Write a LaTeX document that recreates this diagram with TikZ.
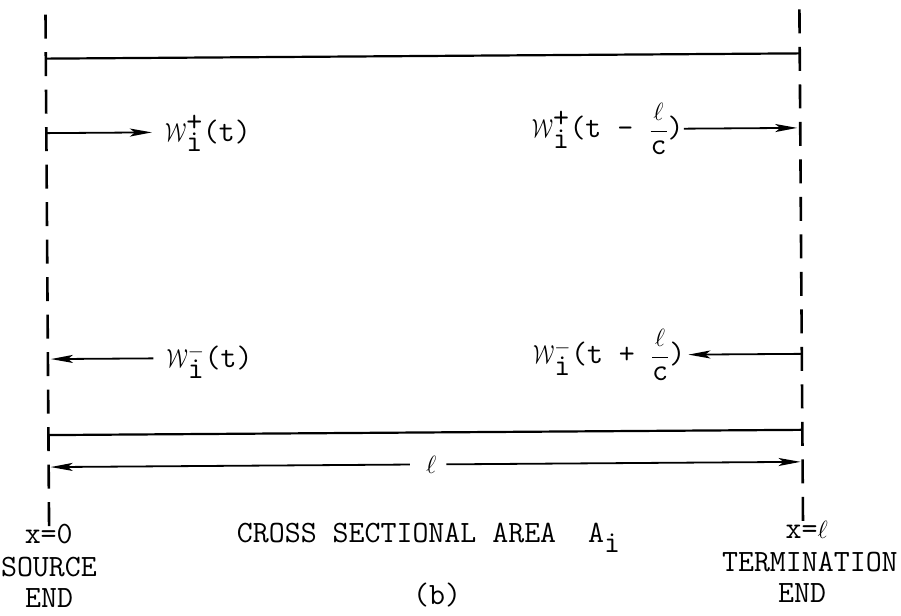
\documentclass[tikz,border=0pt]{standalone}
\usetikzlibrary{arrows.meta}
\newcommand\Wv{\mbox{\scalebox{0.8}[1.05]{$\mathcal{W}$}}}
\newcommand\fr{$\displaystyle\frac{\ell}{\texttt{c}}$}
\begin{document}
\begin{tikzpicture}[x=1pt,y=-1pt,
  wall/.style={line width=2.6pt, dash pattern=on 24pt off 13.5pt},
  bar/.style={line width=2.2pt},
  arr/.style={line width=1.8pt, -{Stealth[length=22pt,width=8pt,inset=5pt]}},
  lbl/.style={font=\fontsize{31}{34}\selectfont\ttfamily, inner sep=0pt}]
\useasboundingbox (0,0) rectangle (901,615);
\begin{scope}[rotate around={0.4:(424,300)}]
% walls
\coordinate (LT) at (47.5,12);   \coordinate (LB) at (47.5,524);
\coordinate (RT) at (801.5,12);  \coordinate (RB) at (801.5,524);
\draw[wall] (LT) -- (LB);
\draw[wall] (RT) -- (RB);
% contact points
\coordinate (l0) at (47.5,56);    \coordinate (r0) at (801.5,56);
\coordinate (l1) at (47.5,130.5); \coordinate (r1) at (801.5,130.5);
\coordinate (l2) at (47.5,356.5); \coordinate (r2) at (801.5,356.5);
\coordinate (l3) at (47.5,432.5); \coordinate (r3) at (801.5,432.5);
\coordinate (l4) at (47.5,464.5); \coordinate (r4) at (801.5,464.5);
% bars
\draw[bar] (l0) -- (r0);
\draw[bar] (l3) -- (r3);
% labels
\node[lbl, anchor=base west] (L1) at (166,139.5) {${\Wv}^{\texttt{+}}_{\texttt{i}}$(t)};
\node[lbl, anchor=base east] (L2) at (685,139.5) {${\Wv}^{\texttt{+}}_{\texttt{i}}$(t - \fr)};
\node[lbl, anchor=base west] (L3) at (166,365.5) {${\Wv}^{-}_{\texttt{i}}$(t)};
\node[lbl, anchor=base east] (L4) at (685,365.5) {${\Wv}^{-}_{\texttt{i}}$(t + \fr)};
% wave arrows
\draw[arr, shorten >=13pt] (l1) -- (L1.west |- l1);
\draw[arr, shorten >=3pt] (L2.east |- r1) -- (r1);
\draw[arr, shorten <=13pt, shorten >=3pt] (L3.west |- l2) -- (l2);
\draw[arr, shorten >=3pt] (r2) -- (L4.east |- r2);
% dimension
\node[lbl, inner sep=0pt] (ell) at (430,464.5) {$\ell$};
\draw[arr, shorten <=16pt, shorten >=2pt] (ell.west) -- (l4);
\draw[arr, shorten <=10pt, shorten >=2pt] (ell.east) -- (r4);
% bottom texts
\node[lbl, anchor=base] (x0) at (47,541) {x=0};
\node[lbl, anchor=base] (src) at (47,574) {SOURCE};
\node[lbl, anchor=base] (end1) at (47,605) {END};
\node[lbl, anchor=base west] (area) at (235,541) {CROSS SECTIONAL AREA\ \ A$_{\texttt{i}}$};
\node[lbl, anchor=base] (b) at (435,605) {(b)};
\node[lbl, anchor=base] (xl) at (805,541) {x=$\ell$};
\node[lbl, anchor=base] (term) at (808,574) {TERMINATION};
\node[lbl, anchor=base] (end2) at (800,605) {END};
\end{scope}
\end{tikzpicture}
\end{document}
